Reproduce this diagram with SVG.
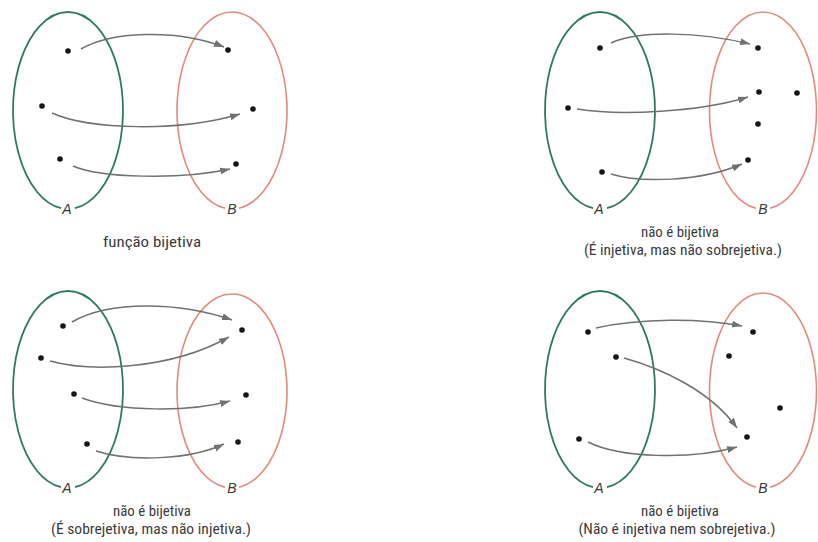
<svg xmlns="http://www.w3.org/2000/svg" width="818" height="542" viewBox="0 0 818 542">
<style>
.setA{fill:none;stroke:#2f7a5e;stroke-width:1.8}
.setB{fill:none;stroke:#e38a7c;stroke-width:1.6}
.dot{fill:#161616}
.arr{fill:none;stroke:#6f7272;stroke-width:1.5;marker-end:url(#ah)}
.lbl{font-family:"Liberation Sans",Arial,sans-serif;font-style:italic;font-size:14px;fill:#3a3a3a;text-anchor:middle}
.cap{font-family:"Roboto Condensed","Liberation Sans Narrow","Liberation Sans",Arial,sans-serif;font-size:14px;fill:#3c3c3c;text-anchor:middle}
</style>
<defs>
<marker id="ah" markerUnits="userSpaceOnUse" markerWidth="11" markerHeight="8" refX="10" refY="3.5" orient="auto">
<path d="M0,0 L10,3.5 L0,7 Z" fill="#6f7272"/>
</marker>
</defs>

<!-- Panel 1 -->
<g id="p1-A"><path class="setA" d="M61,208.2 A55 98.5 0 1 1 75,208.2"/><text class="lbl" x="67" y="214">A</text></g>
<g id="p1-B"><path class="setB" d="M225,208.2 A55 98.5 0 1 1 239,208.2"/><text class="lbl" x="232" y="214">B</text></g>
<g id="p1-dots">
<circle class="dot" cx="68" cy="51" r="2.8"/><circle class="dot" cx="42" cy="106" r="2.8"/><circle class="dot" cx="60" cy="159" r="2.8"/>
<circle class="dot" cx="228" cy="50" r="2.8"/><circle class="dot" cx="253" cy="109" r="2.8"/><circle class="dot" cx="236" cy="164" r="2.8"/>
</g>
<g id="p1-caption"><text class="cap" x="152" y="247" textLength="98" lengthAdjust="spacingAndGlyphs">função bijetiva</text></g>

<!-- Panel 2 -->
<g id="p2-A"><path class="setA" d="M593,208.2 A55 98.5 0 1 1 607,208.2"/><text class="lbl" x="599" y="214">A</text></g>
<g id="p2-B"><path class="setB" d="M756,208.2 A53.5 98.5 0 1 1 770,208.2"/><text class="lbl" x="763" y="214">B</text></g>
<g id="p2-dots">
<circle class="dot" cx="600" cy="48" r="2.8"/><circle class="dot" cx="568" cy="108" r="2.8"/><circle class="dot" cx="602" cy="172" r="2.8"/>
<circle class="dot" cx="758" cy="48" r="2.8"/><circle class="dot" cx="759" cy="92" r="2.8"/><circle class="dot" cx="797" cy="93" r="2.8"/><circle class="dot" cx="758" cy="124" r="2.8"/><circle class="dot" cx="748" cy="160" r="2.8"/>
</g>
<g id="p2-caption">
<text class="cap" x="680" y="237" textLength="78" lengthAdjust="spacingAndGlyphs">não é bijetiva</text>
<text class="cap" x="683" y="255" textLength="198" lengthAdjust="spacingAndGlyphs">(É injetiva, mas não sobrejetiva.)</text>
</g>

<!-- Panel 3 -->
<g id="p3-A"><path class="setA" d="M61,487.2 A55 98.5 0 1 1 75,487.2"/><text class="lbl" x="67" y="493">A</text></g>
<g id="p3-B"><path class="setB" d="M225,487.2 A55 97 0 1 1 239,487.2"/><text class="lbl" x="232" y="493">B</text></g>
<g id="p3-dots">
<circle class="dot" cx="63" cy="326" r="2.8"/><circle class="dot" cx="41" cy="358" r="2.8"/><circle class="dot" cx="74" cy="394" r="2.8"/><circle class="dot" cx="87" cy="444" r="2.8"/>
<circle class="dot" cx="242" cy="330" r="2.8"/><circle class="dot" cx="246" cy="395" r="2.8"/><circle class="dot" cx="238" cy="442" r="2.8"/>
</g>
<g id="p3-caption">
<text class="cap" x="152" y="516" textLength="78" lengthAdjust="spacingAndGlyphs">não é bijetiva</text>
<text class="cap" x="151" y="534" textLength="200" lengthAdjust="spacingAndGlyphs">(É sobrejetiva, mas não injetiva.)</text>
</g>

<!-- Panel 4 -->
<g id="p4-A"><path class="setA" d="M593,487.2 A55 98.5 0 1 1 607,487.2"/><text class="lbl" x="599" y="493">A</text></g>
<g id="p4-B"><path class="setB" d="M756,487.2 A53.5 97.5 0 1 1 770,487.2"/><text class="lbl" x="763" y="493">B</text></g>
<g id="p4-dots">
<circle class="dot" cx="588" cy="332" r="2.8"/><circle class="dot" cx="616" cy="357" r="2.8"/><circle class="dot" cx="579" cy="439" r="2.8"/>
<circle class="dot" cx="753" cy="332" r="2.8"/><circle class="dot" cx="729" cy="356" r="2.8"/><circle class="dot" cx="780" cy="408" r="2.8"/><circle class="dot" cx="747" cy="437" r="2.8"/>
</g>
<g id="p4-caption">
<text class="cap" x="680" y="516" textLength="78" lengthAdjust="spacingAndGlyphs">não é bijetiva</text>
<text class="cap" x="677" y="534" textLength="197" lengthAdjust="spacingAndGlyphs">(Não é injetiva nem sobrejetiva.)</text>
</g>

<g id="connectors">
<path class="arr" d="M81,49 C110,32 175,28 224,47"/>
<path class="arr" d="M52,113 C90,130 180,132 240,114"/>
<path class="arr" d="M73,166 C100,178 180,180 230,169"/>

<path class="arr" d="M611,43 C640,30 700,32 750,44"/>
<path class="arr" d="M577,109 C620,116 700,112 748,97"/>
<path class="arr" d="M611,174 C640,183 700,182 742,164"/>

<path class="arr" d="M72,322 C110,300 180,302 232,320"/>
<path class="arr" d="M50,361 C90,372 170,370 229,337"/>
<path class="arr" d="M82,398 C120,412 190,412 230,401"/>
<path class="arr" d="M96,451 C130,462 190,460 224,444"/>

<path class="arr" d="M596,328 C640,318 700,318 742,326"/>
<path class="arr" d="M624,358 C660,368 710,390 737,428"/>
<path class="arr" d="M588,442 C620,458 690,460 737,447"/>
</g>
</svg>
